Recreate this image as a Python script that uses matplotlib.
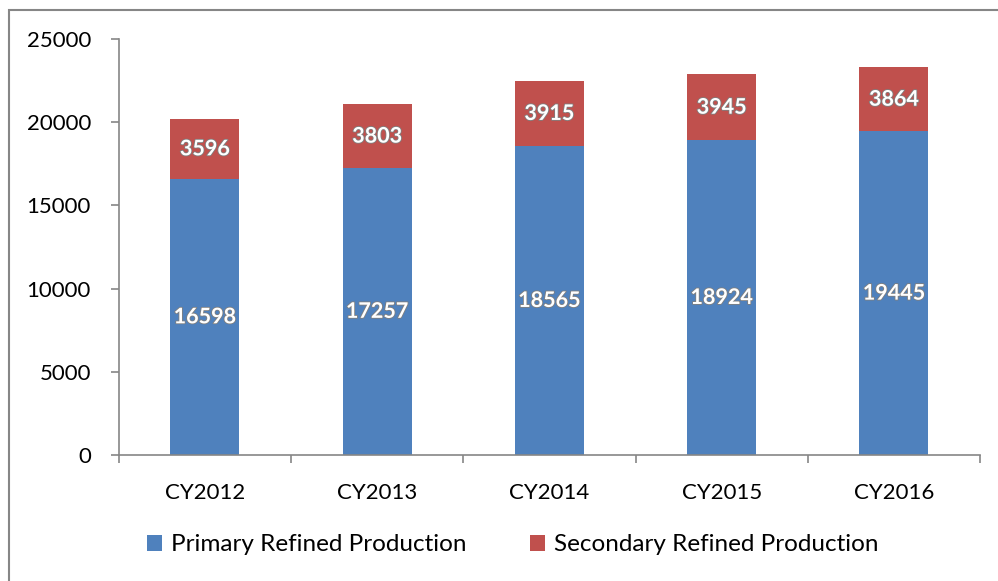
import numpy as np
import matplotlib.pyplot as plt
import matplotlib.patheffects as pe
from matplotlib.patches import Rectangle

# datos
anios = ['CY2012', 'CY2013', 'CY2014', 'CY2015', 'CY2016']
primaria = [16598, 17257, 18565, 18924, 19445]
secundaria = [3596, 3803, 3915, 3945, 3864]

plt.rcParams['font.family'] = ['Lato', 'DejaVu Sans']

fig = plt.figure(figsize=(9.98, 5.81), dpi=100)
ax = fig.add_axes([0.119, 0.217, 0.863, 0.716])

x = np.arange(len(anios))
b1 = ax.bar(x, primaria, width=0.4, color='#4F81BD', label='Primary Refined Production')
b2 = ax.bar(x, secundaria, width=0.4, bottom=primaria, color='#C0504D',
            label='Secondary Refined Production')

efecto = [pe.withStroke(linewidth=1.2, foreground='#7f7f7f')]
for i in range(len(anios)):
    ax.text(x[i], primaria[i] / 2, str(primaria[i]), ha='center', va='center',
            color='white', fontsize=15.5, fontweight='bold', path_effects=efecto)
    ax.text(x[i], primaria[i] + secundaria[i] / 2, str(secundaria[i]),
            ha='center', va='center', color='white', fontsize=15.5,
            fontweight='bold', path_effects=efecto)

ax.set_xlim(-0.5, len(anios) - 0.5)
ax.set_ylim(0, 25000)
ax.set_yticks(np.arange(0, 25001, 5000))
ax.set_xticks(x)
ax.set_xticklabels(anios)
ax.set_xticks(np.arange(-0.5, len(anios), 1), minor=True)
ax.tick_params(axis='x', which='major', length=0, pad=20, labelsize=16)
ax.tick_params(axis='x', which='minor', length=6, color='#868686', width=1.2)
ax.tick_params(axis='y', length=6, color='#868686', width=1.2, pad=14, labelsize=16)

for lado in ['top', 'right']:
    ax.spines[lado].set_visible(False)
for lado in ['left', 'bottom']:
    ax.spines[lado].set_color('#868686')
    ax.spines[lado].set_linewidth(1.2)

fig.legend(handles=[b1, b2], loc='center', bbox_to_anchor=(0.514, 0.062), ncol=2,
           frameon=False, fontsize=17.5, handlelength=0.6, handleheight=0.6,
           handletextpad=0.4, columnspacing=2.6)

# borde del grafico
fig.patches.append(Rectangle((9 / 998, -0.05), 1.1, 1 - 10 / 581 + 0.05,
                             transform=fig.transFigure, fill=False,
                             edgecolor='#868686', linewidth=1.5))

fig.savefig('out.png', dpi=100)
